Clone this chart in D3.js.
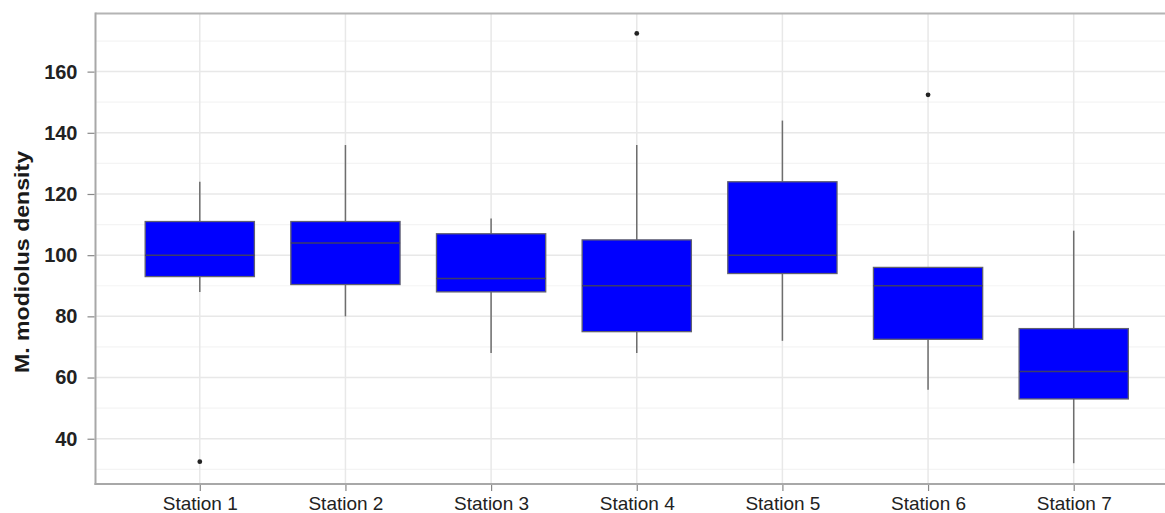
<!DOCTYPE html>
<html><head><meta charset="utf-8">
<script src="https://cdn.jsdelivr.net/npm/d3@7"></script>
<style>body{margin:0;background:#fff}svg{display:block}</style>
</head><body>
<script>
const stations = ["Station 1","Station 2","Station 3","Station 4","Station 5","Station 6","Station 7"];
const whiskerLow  = [88, 80, 68, 68, 72, 56, 32];
const q1          = [93, 90.4, 88, 75, 94, 72.5, 53];
const medians     = [100, 104, 92.4, 90, 100, 90, 62];
const q3          = [111, 111, 107, 105, 124, 96, 76];
const whiskerHigh = [124, 136, 112, 136, 144, 96, 108];
const outlierStation = ["Station 1","Station 4","Station 6"];
const outlierValue   = [32.5, 172.5, 152.4];
const yTicks = [40, 60, 80, 100, 120, 140, 160];
const yMinor = [30, 50, 70, 90, 110, 130, 150, 170];

const W = 1165, H = 513;
const mLeft = 95.5, mTop = 13.5, mBottom = 484, mRight = 1178;
const svg = d3.select("body").append("svg").attr("width", W).attr("height", H);

const x = d3.scalePoint().domain(stations).range([mLeft, mRight]).padding(0.716);
const y = d3.scaleLinear().domain([25.2, 179]).range([mBottom, mTop]);
const bw = x.step() * 0.75;

const data = stations.map((s, i) => ({s, lo: whiskerLow[i], q1: q1[i], med: medians[i], q3: q3[i], hi: whiskerHigh[i]}));

// grid
const g = svg.append("g");
g.selectAll(".minor").data(yMinor).join("line").attr("class", "minor")
  .attr("x1", mLeft).attr("x2", mRight).attr("y1", d => y(d)).attr("y2", d => y(d))
  .attr("stroke", "#f4f4f4").attr("stroke-width", 1.2);
g.selectAll(".major").data(yTicks).join("line").attr("class", "major")
  .attr("x1", mLeft).attr("x2", mRight).attr("y1", d => y(d)).attr("y2", d => y(d))
  .attr("stroke", "#e8e8e8").attr("stroke-width", 1.5);
g.selectAll(".vgrid").data(stations).join("line").attr("class", "vgrid")
  .attr("x1", d => x(d)).attr("x2", d => x(d)).attr("y1", mTop).attr("y2", mBottom)
  .attr("stroke", "#e8e8e8").attr("stroke-width", 1.5);

// whiskers
const b = svg.append("g");
b.selectAll(".wh").data(data).join("line").attr("class", "wh")
  .attr("x1", d => x(d.s)).attr("x2", d => x(d.s))
  .attr("y1", d => y(d.hi)).attr("y2", d => y(d.q3))
  .attr("stroke", "#6e6e6e").attr("stroke-width", 1.5);
b.selectAll(".wl").data(data).join("line").attr("class", "wl")
  .attr("x1", d => x(d.s)).attr("x2", d => x(d.s))
  .attr("y1", d => y(d.q1)).attr("y2", d => y(d.lo))
  .attr("stroke", "#6e6e6e").attr("stroke-width", 1.5);
// boxes
b.selectAll("rect").data(data).join("rect")
  .attr("x", d => x(d.s) - bw/2).attr("width", bw)
  .attr("y", d => y(d.q3)).attr("height", d => y(d.q1) - y(d.q3))
  .attr("fill", "#0000ff").attr("stroke", "#606070").attr("stroke-width", 1.3);
b.selectAll(".med").data(data).join("line").attr("class", "med")
  .attr("x1", d => x(d.s) - bw/2).attr("x2", d => x(d.s) + bw/2)
  .attr("y1", d => y(d.med)).attr("y2", d => y(d.med))
  .attr("stroke", "#3c3c6a").attr("stroke-width", 1.5);
// outliers
b.selectAll("circle").data(outlierStation.map((s, i) => ({s, v: outlierValue[i]}))).join("circle")
  .attr("cx", d => x(d.s)).attr("cy", d => y(d.v)).attr("r", 2.4).attr("fill", "#222");

// frame
svg.append("line").attr("x1", mLeft).attr("x2", W).attr("y1", mTop).attr("y2", mTop)
  .attr("stroke", "#b4b4b4").attr("stroke-width", 2);
svg.append("line").attr("x1", mLeft).attr("x2", mLeft).attr("y1", mTop - 1).attr("y2", mBottom + 1)
  .attr("stroke", "#a8a8a8").attr("stroke-width", 2);
svg.append("line").attr("x1", mLeft - 1).attr("x2", W).attr("y1", mBottom).attr("y2", mBottom)
  .attr("stroke", "#a8a8a8").attr("stroke-width", 2);

// y axis
const ya = svg.append("g").attr("transform", `translate(${mLeft - 1},0)`)
  .call(d3.axisLeft(y).tickValues(yTicks).tickSize(7).tickPadding(10));
ya.select(".domain").remove();
ya.selectAll(".tick line").attr("stroke", "#888").attr("stroke-width", 1.2);
ya.selectAll(".tick text").attr("font-family", "Liberation Sans, Arial, sans-serif")
  .attr("font-size", 20).attr("font-weight", "bold").attr("fill", "#222");

// x axis
const xa = svg.append("g").attr("transform", `translate(0,${mBottom + 1})`)
  .call(d3.axisBottom(x).tickSize(6).tickPadding(4));
xa.select(".domain").remove();
xa.selectAll(".tick line").attr("stroke", "#888").attr("stroke-width", 1.2);
xa.selectAll(".tick text").attr("font-family", "Liberation Sans, Arial, sans-serif")
  .attr("font-size", 19).attr("fill", "#222").attr("dy", null).attr("y", 25);

// y title
svg.append("text").attr("transform", "translate(29,262) rotate(-90)")
  .attr("text-anchor", "middle").attr("font-family", "Liberation Sans, Arial, sans-serif")
  .attr("font-size", 21).attr("font-weight", "bold").attr("fill", "#1a1a1a")
  .attr("textLength", 222).attr("lengthAdjust", "spacingAndGlyphs")
  .text("M. modiolus density");
</script>
</body></html>
